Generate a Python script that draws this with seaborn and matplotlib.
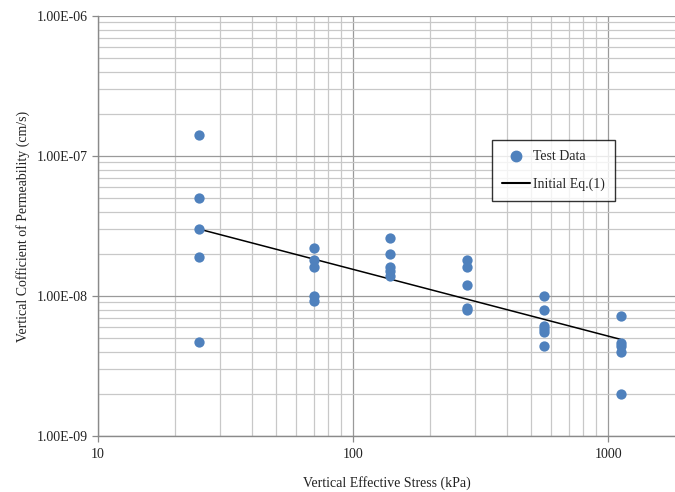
import seaborn as sns
import numpy as np
import pandas as pd
import matplotlib.pyplot as plt
from matplotlib.ticker import LogLocator, FuncFormatter, NullFormatter
from matplotlib.lines import Line2D


#test data
stress = [25, 25, 25, 25, 25,
          70, 70, 70, 70, 70,
          140, 140, 140, 140, 140,
          280, 280, 280, 280, 280,
          560, 560, 560, 560, 560, 560,
          1120, 1120, 1120, 1120, 1120]
perm = [1.41e-7, 5.0e-8, 3.0e-8, 1.9e-8, 4.7e-9,
        2.2e-8, 1.8e-8, 1.62e-8, 1.0e-8, 9.2e-9,
        2.6e-8, 2.0e-8, 1.6e-8, 1.5e-8, 1.4e-8,
        1.8e-8, 1.62e-8, 1.2e-8, 8.2e-9, 8.0e-9,
        1.0e-8, 8.0e-9, 6.1e-9, 5.8e-9, 5.5e-9, 4.4e-9,
        7.2e-9, 4.6e-9, 4.4e-9, 4.0e-9, 2.0e-9]

#initial eq.(1) line
eq_stress = [25, 1120]
eq_perm = [3.0e-8, 4.9e-9]

df = pd.DataFrame({"stress": stress, "perm": perm})
df_eq = pd.DataFrame({"stress": eq_stress, "perm": eq_perm})

sns.set_style("white")
plt.rcParams['font.family'] = ['Liberation Serif', 'DejaVu Serif']

fig = plt.figure(figsize=(6.75, 4.92), dpi=100)
ax = fig.add_axes([98/675, 56/492, 1 - 98/675, 420/492])

blue = "#4F81BD"
sns.lineplot(data=df_eq, x="stress", y="perm", color="black", lw=1.1, ax=ax, zorder=3)
sns.scatterplot(data=df, x="stress", y="perm", color=blue, s=55, edgecolor=blue,
                linewidth=0, ax=ax, zorder=4)

ax.set_xscale("log")
ax.set_yscale("log")
ax.set_xlim(10, 1830)
ax.set_ylim(1e-9, 1e-6)

ax.xaxis.set_major_locator(LogLocator(base=10))
ax.xaxis.set_minor_locator(LogLocator(base=10, subs=np.arange(2, 10)))
ax.yaxis.set_major_locator(LogLocator(base=10))
ax.yaxis.set_minor_locator(LogLocator(base=10, subs=np.arange(2, 10)))
ax.xaxis.set_major_formatter(FuncFormatter(lambda v, p: "%d" % v))
ax.yaxis.set_major_formatter(FuncFormatter(lambda v, p: "%.2E" % v))
ax.xaxis.set_minor_formatter(NullFormatter())
ax.yaxis.set_minor_formatter(NullFormatter())

ax.grid(which="major", color="#9a9a9a", lw=0.9)
ax.grid(which="minor", color="#c8c8c8", lw=0.9)
ax.set_axisbelow(True)

for s in ["top", "right"]:
    ax.spines[s].set_visible(False)
for s in ["left", "bottom"]:
    ax.spines[s].set_color("#8a8a8a")
    ax.spines[s].set_linewidth(1.0)

ax.tick_params(which="major", length=4, width=0.9, color="#8a8a8a", labelsize=10,
               labelcolor="#222222", left=True, bottom=True)
ax.tick_params(which="minor", length=0)
ax.tick_params(axis="x", pad=5)

ax.set_xlabel("Vertical Effective Stress (kPa)", fontsize=10, color="#222222", va="center")
ax.xaxis.set_label_coords(0.5, -(483 - 436) / 420)
ax.set_ylabel("Vertical Cofficient of Permeability (cm/s)", fontsize=10, color="#222222", labelpad=5)

handles = [Line2D([], [], marker="o", ls="none", color=blue, markersize=7.5),
           Line2D([], [], color="black", lw=1.5)]
leg = ax.legend(handles, ["Test Data", "Initial Eq.(1)"], loc="upper left",
                bbox_to_anchor=((492 - 98) / 577, 1 - (140 - 16) / 420),
                frameon=True, fancybox=False, edgecolor="black", fontsize=10,
                labelspacing=1.0, borderpad=0.75, handlelength=2.0, handletextpad=0.2,
                borderaxespad=0)
leg.get_frame().set_linewidth(1.0)

plt.savefig("out.png", dpi=100)
